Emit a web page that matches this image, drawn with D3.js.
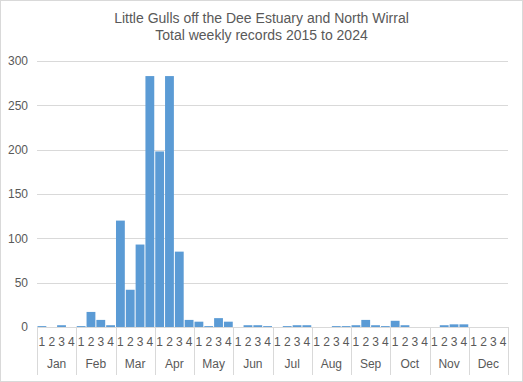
<!DOCTYPE html>
<html><head><meta charset="utf-8">
<script src="https://cdn.jsdelivr.net/npm/d3@7"></script>
<style>html,body{margin:0;padding:0;background:#fff;}svg{display:block;}</style>
</head><body>
<svg id="c" width="523" height="382"></svg>
<script>
const titleLines = ["Little Gulls off the Dee Estuary and North Wirral", "Total weekly records 2015 to 2024"];
const months = ["Jan","Feb","Mar","Apr","May","Jun","Jul","Aug","Sep","Oct","Nov","Dec"];
const weekLabels = ["1","2","3","4"];
const values = [
  1, 0, 2, 0,      // Jan
  1, 17, 8, 2,     // Feb
  120, 42, 93, 283,// Mar
  198, 283, 85, 8, // Apr
  6, 1, 10, 6,     // May
  0, 2, 2, 1,      // Jun
  0, 1, 2, 2,      // Jul
  0, 0, 1, 1,      // Aug
  2, 8, 2, 1,      // Sep
  7, 2, 0, 0,      // Oct
  0, 2, 3, 3,      // Nov
  0, 0, 0, 0       // Dec
];
const yTicks = [0, 50, 100, 150, 200, 250, 300];

(function () {
const svg = d3.select("#c");
const W = 523, H = 382;
const pL = 37, pR = 508, pT = 61, pB = 327;
const grey = "#595959", lineCol = "#d9d9d9";
const font = "Liberation Sans, Arial, sans-serif";

svg.append("rect").attr("x", 0.5).attr("y", 0.5).attr("width", W - 1).attr("height", H - 1)
  .attr("fill", "#fff").attr("stroke", lineCol);

const idx = d3.range(values.length);
const x = d3.scaleBand().domain(idx).range([pL, pR]).paddingInner(0.1).paddingOuter(0.05);
const y = d3.scaleLinear().domain([0, 300]).range([pB, pT]);

svg.append("g").selectAll("line").data(yTicks.filter(d => d > 0)).join("line")
  .attr("x1", pL).attr("x2", pR)
  .attr("y1", d => Math.round(y(d)) + 0.5).attr("y2", d => Math.round(y(d)) + 0.5)
  .attr("stroke", lineCol).attr("stroke-width", 1);

const yAxis = d3.axisLeft(y).tickValues(yTicks).tickSize(0).tickPadding(9);
const ga = svg.append("g").attr("transform", `translate(${pL},0)`).call(yAxis);
ga.select(".domain").remove();
ga.selectAll("text").attr("fill", grey).attr("font-size", "12px").attr("font-family", font);

svg.append("g").selectAll("rect").data(idx).join("rect")
  .attr("x", i => x(i)).attr("width", x.bandwidth())
  .attr("y", i => y(values[i])).attr("height", i => y(0) - y(values[i]))
  .attr("fill", "#5b9bd5");

svg.append("line").attr("x1", pL).attr("x2", pR)
  .attr("y1", pB + 0.5).attr("y2", pB + 0.5).attr("stroke", lineCol);

const step = x.step();
svg.append("g").selectAll("line").data(d3.range(months.length + 1)).join("line")
  .attr("x1", m => Math.round(pL + step * m * 4) + 0.5)
  .attr("x2", m => Math.round(pL + step * m * 4) + 0.5)
  .attr("y1", pB).attr("y2", 375).attr("stroke", lineCol);

svg.append("g").selectAll("text").data(idx).join("text")
  .attr("x", i => x(i) + x.bandwidth() / 2).attr("y", 346)
  .attr("text-anchor", "middle").attr("fill", grey).attr("font-size", "12px")
  .attr("font-family", font)
  .text(i => weekLabels[i % 4]);

svg.append("g").selectAll("text").data(months).join("text")
  .attr("x", (m, k) => pL + step * (k * 4 + 2)).attr("y", 368)
  .attr("text-anchor", "middle").attr("fill", grey).attr("font-size", "12px")
  .attr("font-family", font)
  .text(m => m);

svg.append("g").selectAll("text").data(titleLines).join("text")
  .attr("x", 261.5).attr("y", (d, i) => 23 + i * 17)
  .attr("text-anchor", "middle").attr("fill", grey).attr("font-size", "14px")
  .attr("font-family", font)
  .text(d => d);
})();
</script>
</body></html>
